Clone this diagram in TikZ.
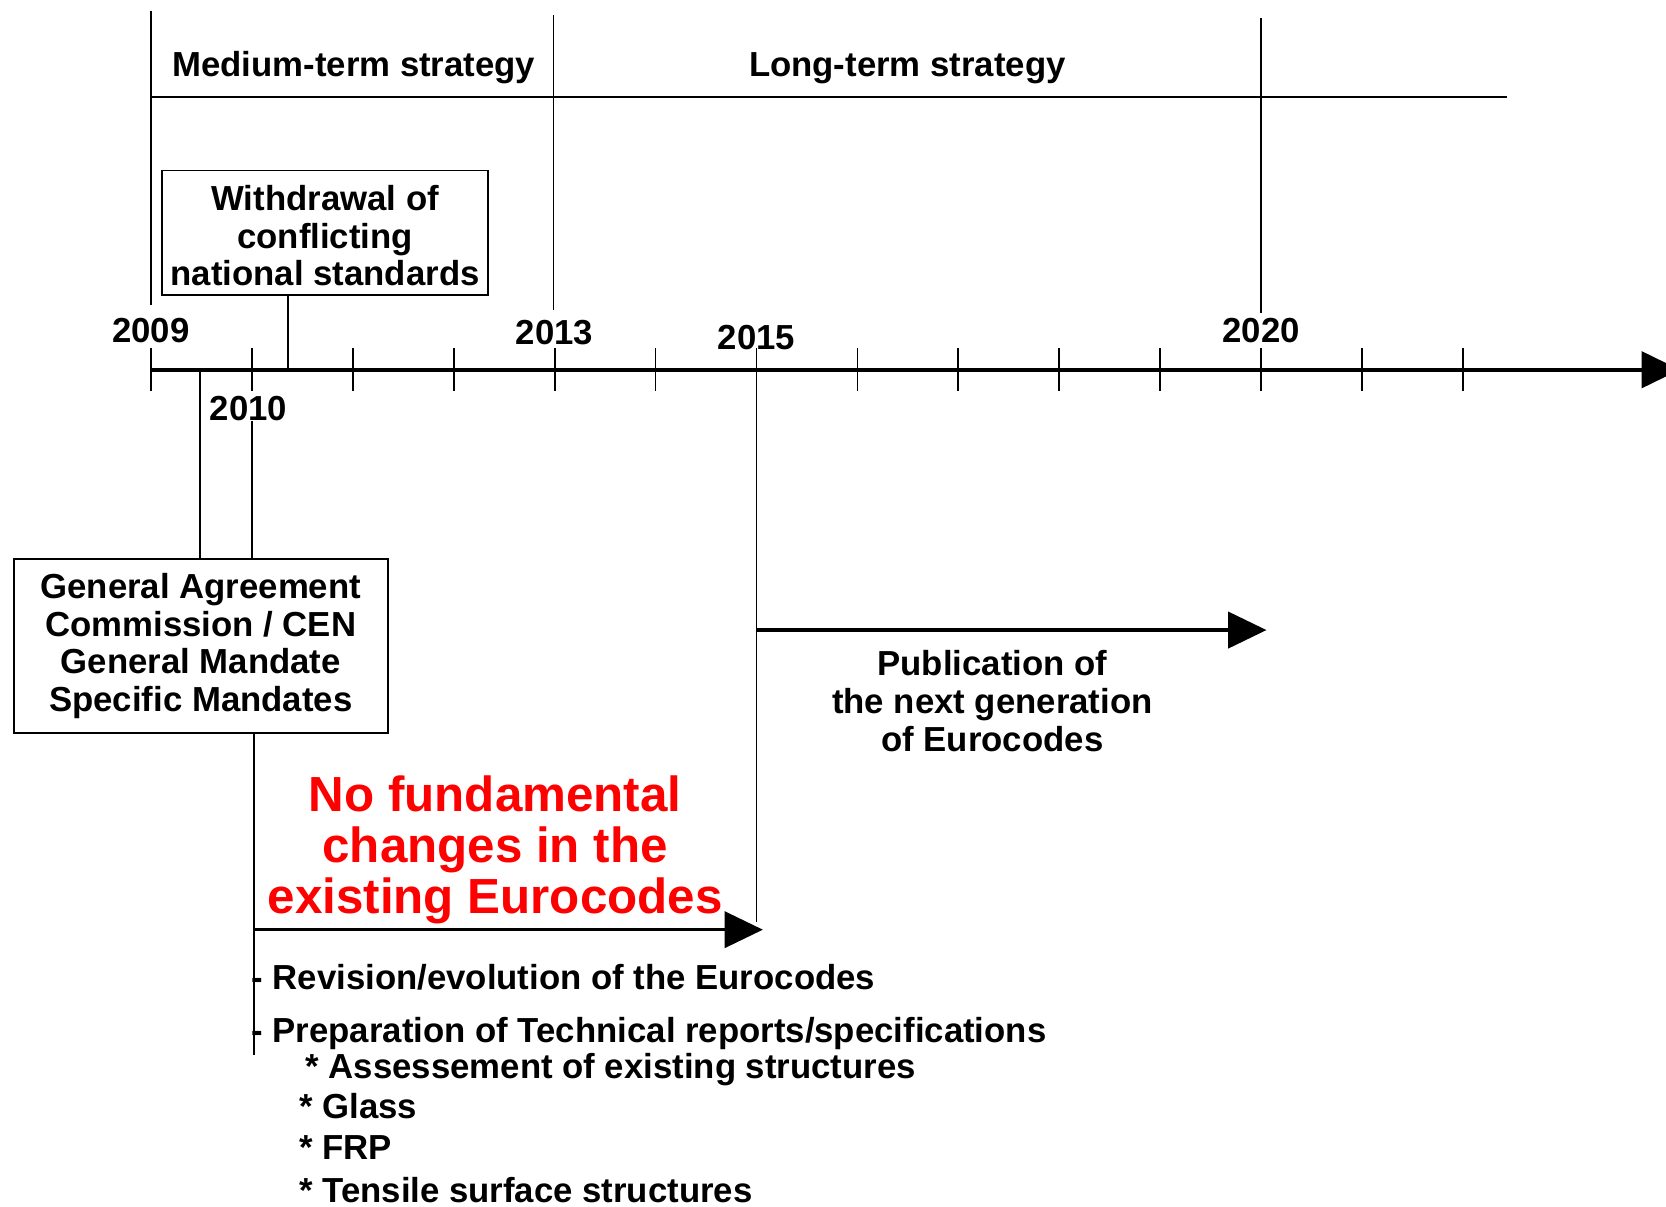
\documentclass[tikz,border=0pt]{standalone}
\usepackage{fontspec}
\setmainfont{Liberation Sans}
\usepackage{tikz}
\usetikzlibrary{positioning}
\usetikzlibrary{arrows.meta}
\usepackage{xcolor}

\tikzset{
  txt/.style={font=\bfseries\fontsize{9.3}{10.1}\selectfont, inner sep=0pt, align=center},
  year/.style={txt},
  box/.style={txt, draw, line width=0.5pt},
  thin/.style={line width=0.5pt},
  axis/.style={line width=1.2pt, -{Triangle[length=0.36cm, width=0.34cm]}},
  arrow/.style={line width=0.9pt, -{Triangle[length=0.36cm, width=0.34cm]}},
  redtxt/.style={font=\bfseries\fontsize{13.2}{13.7}\selectfont, text=red, inner sep=0pt, align=center},
  item/.style={txt, anchor=west, align=left}
}

\begin{document}
\begin{tikzpicture}[x=0.01cm, y=-0.01cm]
  \useasboundingbox (0,0) rectangle (1568,1136);

  % Define nodes
  \foreach \i in {0,...,13}
    \coordinate (t\i) at (142+95*\i, 348);
  \coordinate (tip) at (1581, 348);

  \node[year, above=0.25cm of t0] (y2009) {2009};
  \node[year, below=0.24cm of t1, xshift=-0.03cm] (y2010) {2010};
  \node[year, above=0.23cm of t4] (y2013) {2013};
  \node[year, above=0.18cm of t6] (y2015) {2015};
  \node[year, above=0.25cm of t11] (y2020) {2020};

  \node[txt] (med)  at (333, 64) {Medium-term strategy};
  \node[txt] (long) at (854, 64) {Long-term strategy};

  \node[box, minimum width=3.07cm, minimum height=1.17cm] (withdraw) at (306, 219)
    {\\[-0.06cm]Withdrawal of\\ conflicting\\ national standards};
  \node[box, minimum width=3.52cm, minimum height=1.64cm] (general) at (189, 608)
    {General Agreement\\ Commission / CEN\\ General Mandate\\ Specific Mandates};

  \node[txt] (pub) at (934, 660) {Publication of\\ the next generation\\ of Eurocodes};
  \node[redtxt] (nofund) at (466, 800) {No fundamental\\ changes in the\\ existing Eurocodes};

  \node[item] (rev)    at (236, 920) {- Revision/evolution of the Eurocodes};
  \node[item] (prep)   at (236, 973) {- Preparation of Technical reports/specifications};
  \node[item] (assess) at (287, 1007) {* Assessement of existing structures};
  \node[item] (glass)  at (281, 1041) {* Glass};
  \node[item] (frp)    at (281, 1080) {* FRP};
  \node[item] (tens)   at (281, 1120) {* Tensile surface structures};

  \coordinate (s2009) at (142, 10);
  \coordinate (e2009) at (142, 287);
  \coordinate (s2013) at (521, 14);
  \coordinate (e2013) at (521, 292);
  \coordinate (s2020) at (1187, 17);
  \coordinate (e2020) at (1187, 295);
  \coordinate (topend) at (1418, 91);
  \coordinate (wd) at (271, 348);
  \coordinate (ga) at (188, 348);
  \coordinate (low) at (239, 993);
  \coordinate (nf) at (718, 875);
  \coordinate (p2015) at (712, 868);
  \coordinate (pubend) at (1192, 593);

  % Connect the nodes
  \draw[thin] (s2009) -- (e2009);
  \draw[thin] (s2013) -- (e2013);
  \draw[thin] (s2020) -- (e2020);
  \draw[thin] (s2009 |- topend) -- (topend);

  \draw[axis] (t0) -- (tip);
  \foreach \i in {0,...,13}
    \draw[thin] ([yshift=0.2cm]t\i) -- ([yshift=-0.2cm]t\i);

  \draw[thin] (wd |- withdraw.south) -- (wd);
  \draw[thin] (ga) -- (ga |- general.north);
  \draw[thin] (t1 |- y2010.south) -- (t1 |- general.north);
  \draw[thin] (general.south -| low) -- (low);
  \draw[thin] (t6) -- (p2015);

  \draw[arrow] (low |- nf) -- (nf);
  \draw[arrow] (t6 |- pubend) -- (pubend);

\end{tikzpicture}
\end{document}
